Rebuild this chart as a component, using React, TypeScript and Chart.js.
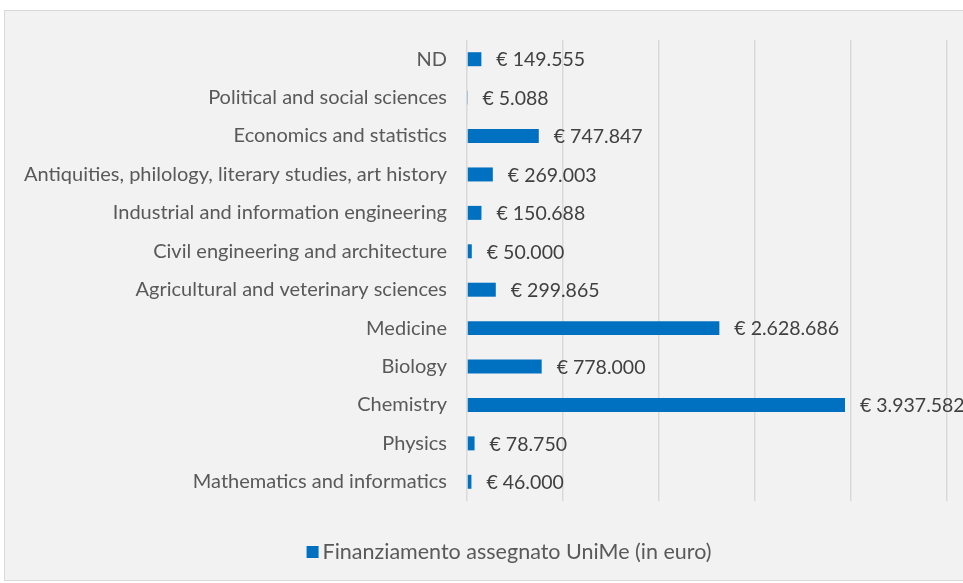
import React, { useEffect, useRef } from "react";
import { Chart, registerables } from "chart.js";

Chart.register(...registerables);

const categories = [
  "ND",
  "Political and social sciences",
  "Economics and statistics",
  "Antiquities, philology, literary studies, art history",
  "Industrial and information engineering",
  "Civil engineering and architecture",
  "Agricultural and veterinary sciences",
  "Medicine",
  "Biology",
  "Chemistry",
  "Physics",
  "Mathematics and informatics",
];

const values = [149555, 5088, 747847, 269003, 150688, 50000, 299865, 2628686, 778000, 3937582, 78750, 46000];

const seriesLabel = "Finanziamento assegnato UniMe (in euro)";
const xMax = 5000000;
const xStep = 1000000;

const FONT = "Lato, 'Open Sans', sans-serif";
const BAR_COLOR = "#0070c0";

function fmt(v: number): string {
  return "€ " + String(v).replace(/\B(?=(\d{3})+(?!\d))/g, ".");
}

const valueLabels = {
  id: "valueLabels",
  afterDatasetsDraw(chart: any) {
    const ctx = chart.ctx;
    const meta = chart.getDatasetMeta(0);
    ctx.save();
    ctx.font = `19.5px ${FONT}`;
    ctx.fillStyle = "#404040";
    ctx.textAlign = "left";
    ctx.textBaseline = "middle";
    meta.data.forEach((bar: any, i: number) => {
      ctx.fillText(fmt(values[i]), bar.x + 15, bar.y + 1);
    });
    ctx.restore();
  },
};

const customLegend = {
  id: "customLegend",
  afterDraw(chart: any) {
    const ctx = chart.ctx;
    ctx.save();
    ctx.font = `21.5px ${FONT}`;
    const tw = ctx.measureText(seriesLabel).width;
    const box = 12;
    const gap = 4;
    const total = box + gap + tw;
    const cx = 509;
    const cy = 552;
    const x0 = cx - total / 2;
    ctx.fillStyle = BAR_COLOR;
    ctx.fillRect(x0, cy - box / 2, box, box);
    ctx.fillStyle = "#595959";
    ctx.textAlign = "left";
    ctx.textBaseline = "middle";
    ctx.fillText(seriesLabel, x0 + box + gap, cy);
    ctx.restore();
  },
};

export default function App() {
  const ref = useRef<HTMLCanvasElement>(null);
  useEffect(() => {
    if (!ref.current) return;
    const chart = new Chart(ref.current, {
      type: "bar",
      data: {
        labels: categories,
        datasets: [
          {
            label: seriesLabel,
            data: values,
            backgroundColor: BAR_COLOR,
            borderWidth: 0,
            barPercentage: 0.364,
            categoryPercentage: 1,
          },
        ],
      },
      options: {
        indexAxis: "y",
        animation: false,
        responsive: false,
        layout: { padding: { top: 40, right: 16, bottom: 82, left: 0 } },
        scales: {
          x: {
            min: 0,
            max: xMax,
            ticks: { display: false, stepSize: xStep },
            grid: { color: "#d9d9d9", drawTicks: false, lineWidth: 1.5 },
            border: { display: false },
            afterFit: (s: any) => {
              s.height = 0;
            },
          },
          y: {
            ticks: {
              color: "#595959",
              font: { family: FONT, size: 20 },
              padding: 20,
            },
            grid: { display: false, drawTicks: false },
            border: { display: false },
            afterFit: (s: any) => {
              s.width = 467;
            },
          },
        },
        plugins: {
          legend: { display: false },
          tooltip: { enabled: false },
        },
      },
      plugins: [valueLabels, customLegend],
    });
    return () => chart.destroy();
  }, []);

  return (
    <div style={{ position: "fixed", left: 0, top: 0, width: 963, height: 583, background: "#fff" }}>
      <div
        style={{
          position: "absolute",
          left: 4,
          top: 10,
          width: 980,
          height: 569,
          background: "#f2f2f2",
          border: "1px solid #d9d9d9",
        }}
      />
      <canvas ref={ref} width={963} height={583} style={{ position: "absolute", left: 0, top: 0 }} />
    </div>
  );
}
